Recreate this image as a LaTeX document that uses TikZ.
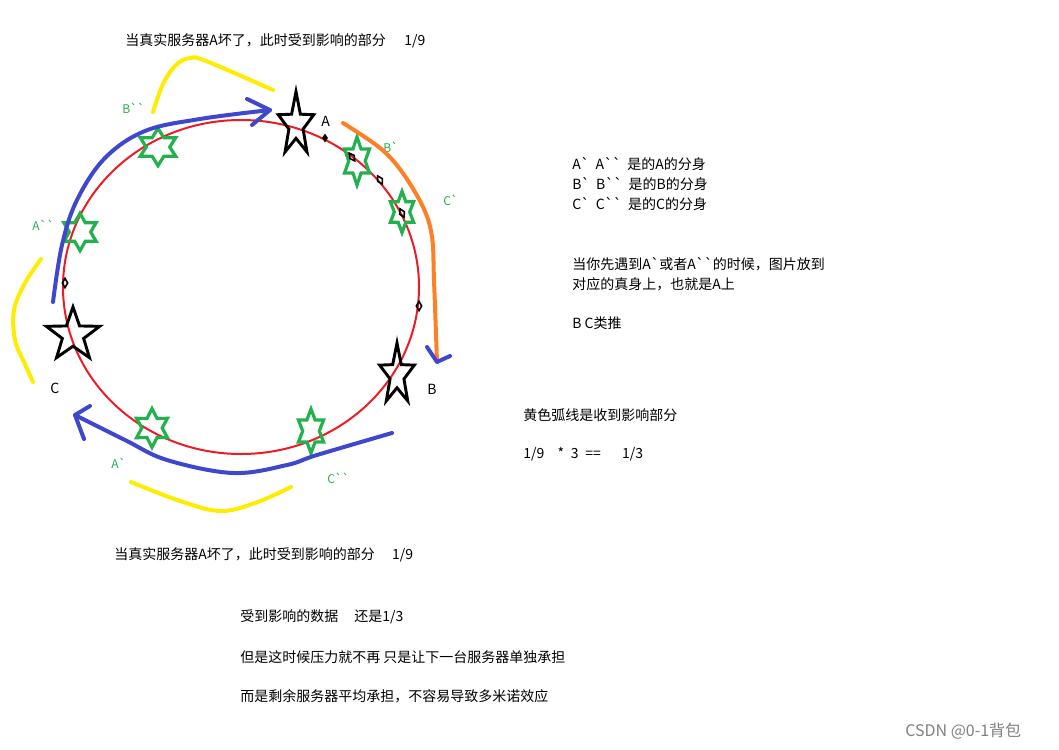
\documentclass[tikz,border=0pt]{standalone}
\usepackage{fontspec}
\setmainfont{Noto Sans CJK SC}[Ligatures=TeXOff]
\usepackage{xcolor}
\usepackage{tikz}
\usetikzlibrary{shapes.geometric,positioning}

\definecolor{ringred}{RGB}{237,28,36}
\definecolor{arcblue}{RGB}{63,72,204}
\definecolor{copygreen}{RGB}{34,177,76}
\definecolor{hityellow}{RGB}{255,236,0}
\definecolor{arcorange}{RGB}{255,127,39}

\begin{document}
\begin{tikzpicture}[x=0.75pt,y=-0.75pt,
    server/.style={star, star points=5, star point ratio=2.5,
        draw=black, line width=2.2pt, inner sep=0pt, minimum size=#1},
    replica/.style={star, star points=6, star point ratio=1.75,
        draw=copygreen, line width=2.4pt, inner sep=0pt, minimum size=#1},
    vnode/.style={diamond, draw=black, line width=1.2pt, inner sep=0pt,
        minimum width=4.5pt, minimum height=7.5pt},
    blueline/.style={arcblue, line width=3pt, line cap=round, line join=round},
    yellowline/.style={hityellow, line width=3pt, line cap=round},
    srvname/.style={font=\fontsize{10.5}{12}\selectfont, inner sep=0pt, anchor=west},
    copyname/.style={copygreen, font=\fontsize{9}{10}\selectfont, inner sep=0pt, anchor=west},
    note/.style={font=\fontsize{10.5}{12}\selectfont, inner sep=0pt, anchor=west}
]
\useasboundingbox (0,0) rectangle (1059,749);

% hash ring
\draw[ringred, line width=1.5pt] (241,287) ellipse [x radius=178, y radius=167];

% real servers
\node[server=50pt, xscale=0.56] (A) at (296,125) {};
\node[server=48pt, xscale=0.57] (B) at (397,375) {};
\node[server=42pt] (C) at (73,335) {};
\node[srvname] (Aname) at (321,121) {A};
\node[srvname] (Bname) at (427,389) {B};
\node[srvname] (Cname) at (50,388) {C};

% virtual copies
\node[replica=28pt, xscale=1.1] (r1) at (158,147) {};
\node[replica=36pt, xscale=0.6] (r2) at (357,161) {};
\node[replica=31pt, xscale=0.65] (r3) at (402,212) {};
\node[replica=28pt] (r4) at (80,232) {};
\node[replica=29pt, xscale=0.92] (r5) at (152,428) {};
\node[replica=33pt, xscale=0.66] (r6) at (311,431) {};

\node[copyname] (Bcc) at (122,108) {B``};
\node[copyname] (Bc) at (383,147) {B`};
\node[copyname] (Cc) at (443,200) {C`};
\node[copyname] (Acc) at (32,225) {A``};
\node[copyname] (Ac) at (111,463) {A`};
\node[copyname] (Ccc) at (327,478) {C``};

% hash points
\node[vnode, fill=black, minimum width=3.5pt, minimum height=5pt] (v1) at (325,138) {};
\foreach \x/\y/\r [count=\i from 2] in {352/157/35, 380/180/30, 402/213/25, 419/306/0, 65/283/0}
    \node[vnode, rotate=\r] (v\i) at (\x,\y) {};

% moving arcs
\coordinate (tipA) at (270,110);
\coordinate (tipC) at (75,415);
\coordinate (tipB) at (437,362);

\draw[blueline] plot[smooth, tension=0.6] coordinates
    {(53,302) (62,245) (77,200) (105,158) (145,131) (200,119) (tipA)};
\draw[blueline] (247,99) -- (tipA) -- (252,125);

\draw[blueline] plot[smooth, tension=0.6] coordinates
    {(392,433) (317,455) (287,465) (233,473) (167,460) (125,440) (tipC)};
\draw[blueline] (90,406) -- (tipC) -- (84,439);

\draw[arcorange, line width=3pt, line cap=round] plot[smooth, tension=0.6] coordinates
    {(343,123) (380,148) (402,172) (423,207) (432,237) (434,280) (tipB)};
\draw[blueline] (427,347) -- (tipB) -- (450,356);

% affected parts
\draw[yellowline] plot[smooth, tension=0.6] coordinates
    {(153,112) (163,84) (176,65) (190,58) (206,61) (273,90)};
\draw[yellowline] plot[smooth, tension=0.6] coordinates
    {(41,259) (25,283) (14,310) (15,340) (24,362) (33,382)};
\draw[yellowline] plot[smooth, tension=0.6] coordinates
    {(131,482) (180,501) (220,511) (255,503) (291,487)};

% notes
\node[note] (title1) at (125,41) {当真实服务器A坏了，此时受到影响的部分\hspace{14pt}1/9};
\node[note] (copyA) at (572,164) {A`\ \ A``\ \ 是的A的分身};
\node[note] (copyB) at (572,184) {B`\ \ B``\ \ 是的B的分身};
\node[note] (copyC) at (572,204) {C`\ \ C``\ \ 是的C的分身};
\node[note] (rule1) at (572,264) {当你先遇到A`或者A``的时候，图片放到};
\node[note] (rule2) at (572,284) {对应的真身上，也就是A上};
\node[note] (rule3) at (572,323) {B C类推};
\node[note] (yellow) at (523,415) {黄色弧线是收到影响部分};
\node[note] (calc) at (523,454) {1/9\hspace{10pt}*\hspace{5pt}3\hspace{5pt}==\hspace{16pt}1/3};
\node[note] (title2) at (114,555) {当真实服务器A坏了，此时受到影响的部分\hspace{13pt}1/9};
\node[note] (res1) at (240,617) {受到影响的数据\hspace{12pt}还是1/3};
\node[note] (res2) at (240,657) {但是这时候压力就不再 只是让下一台服务器单独承担};
\node[note] (res3) at (240,696) {而是剩余服务器平均承担，不容易导致多米诺效应};
\node[note, gray, font=\fontsize{12}{14}\selectfont] (mark) at (905,731) {CSDN @0-1背包};

\end{tikzpicture}
\end{document}
